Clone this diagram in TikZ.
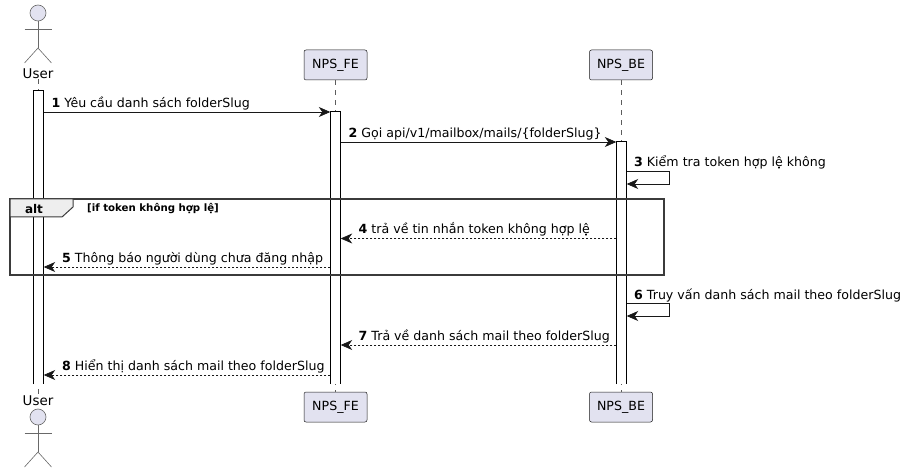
\documentclass[tikz,border=0pt]{standalone}
\usepackage{fontspec}
\setmainfont{DejaVu Sans}
\usetikzlibrary{arrows.meta,positioning}
\definecolor{partfill}{HTML}{E2E2F0}
\definecolor{partline}{HTML}{181818}
\definecolor{framefill}{HTML}{EEEEEE}
\tikzset{
  party/.style={draw=partline,fill=partfill,line width=0.5pt,rounded corners=2pt,minimum width=63pt,minimum height=30pt,inner sep=0pt,font=\fontsize{12.6}{15}\selectfont},
  actorlabel/.style={inner sep=0pt,font=\fontsize{13.4}{16}\selectfont},
  actorline/.style={draw=partline!65,line width=0.6pt},
  lifeline/.style={draw=partline!70,line width=0.5pt,dash pattern=on 5pt off 5pt},
  activebar/.style={fill=white,minimum width=10pt,inner sep=0pt},
  barline/.style={draw=black,line width=0.7pt},
  msg/.style={draw=partline,line width=0.7pt,-{Stealth[length=11.5pt,width=10pt,inset=3.5pt]}},
  msgback/.style={msg,dash pattern=on 2pt off 2pt},
  msglabel/.style={anchor=base west,inner sep=0pt,font=\fontsize{12.6}{15}\selectfont},
}
\newcommand{\stickman}[2]{%
  \draw[actorline,fill=partfill] (#1,#2) circle (8pt);
  \draw[actorline] (#1,#2+8) -- (#1,#2+35);
  \draw[actorline] (#1-13.5,#2+16) -- (#1+13.5,#2+16);
  \draw[actorline] (#1-13.5,#2+50) -- (#1,#2+35) -- (#1+13.5,#2+50);
}
\begin{document}
\begin{tikzpicture}[x=1pt,y=-1pt]
\useasboundingbox (0,0) rectangle (905,473);

% participants
\node[actorlabel] (usertop) at (38,74) {User};
\node[actorlabel] (userbot) at (38,401) {User};
\node[party] (fetop) at (335.5,65) {NPS\_FE};
\node[party] (febot) at (335.5,407) {NPS\_FE};
\node[party] (betop) at (621,65) {NPS\_BE};
\node[party] (bebot) at (621,407) {NPS\_BE};
\stickman{38}{13}
\stickman{38}{417}

% lifelines
\draw[lifeline] (usertop) -- (userbot);
\draw[lifeline] (fetop) -- (febot);
\draw[lifeline] (betop) -- (bebot);

% activation bars
\node[activebar,minimum height=293pt] (baruser) at (38.5,237.5) {};
\node[activebar,minimum height=272pt] (barfe) at (335.5,248) {};
\node[activebar,minimum height=242pt] (barbe) at (621.5,263) {};
\draw[barline] (baruser.south west) -- (baruser.north west) -- (baruser.north east) -- (baruser.south east);
\draw[barline] (barfe.south west) -- (barfe.north west) -- (barfe.north east) -- (barfe.south east);
\draw[barline] (barbe.south west) -- (barbe.north west) -- (barbe.north east) -- (barbe.south east);

% alt frame
\draw[draw=partline!85,line width=1.5pt] (10,199) rectangle (664,275);
\draw[draw=partline!85,fill=framefill,line width=1pt] (10,199) -- (73,199) -- (73,207) -- (62,217) -- (10,217) -- cycle;
\node[inner sep=0pt,font=\fontsize{12}{14}\selectfont\bfseries] (alttag) at (34,209) {alt};
\node[msglabel,font=\fontsize{10.2}{12}\selectfont\bfseries] (altguard) at (87,212) {[if token không hợp lệ]};

% messages
\coordinate (m1a) at (baruser.east |- 0,112);
\coordinate (m1b) at (barfe.west |- 0,112);
\draw[msg] (m1a) -- (m1b);
\node[msglabel] (t1) at (51.5,108) {\textbf{1} Yêu cầu danh sách folderSlug};

\coordinate (m2a) at (barfe.east |- 0,142);
\coordinate (m2b) at (barbe.west |- 0,142);
\draw[msg] (m2a) -- (m2b);
\node[msglabel] (t2) at (348.5,138) {\textbf{2} Gọi api/v1/mailbox/mails/\{folderSlug\}};

\coordinate (m3a) at (barbe.east |- 0,171.5);
\coordinate (m3b) at (barbe.east |- 0,184);
\draw[msg] (m3a) -- (669,171.5) -- (669,184) -- (m3b);
\node[msglabel] (t3) at (634,167) {\textbf{3} Kiểm tra token hợp lệ không};

\coordinate (m4a) at (barbe.west |- 0,238.5);
\coordinate (m4b) at (barfe.east |- 0,238.5);
\draw[msgback] (m4a) -- (m4b);
\node[msglabel] (t4) at (358.5,233.5) {\textbf{4} trả về tin nhắn token không hợp lệ};

\coordinate (m5a) at (barfe.west |- 0,267);
\coordinate (m5b) at (baruser.east |- 0,267);
\draw[msgback] (m5a) -- (m5b);
\node[msglabel] (t5) at (62,262.5) {\textbf{5} Thông báo người dùng chưa đăng nhập};

\coordinate (m6a) at (barbe.east |- 0,303.5);
\coordinate (m6b) at (barbe.east |- 0,316);
\draw[msg] (m6a) -- (669,303.5) -- (669,316) -- (m6b);
\node[msglabel] (t6) at (634,299.5) {\textbf{6} Truy vấn danh sách mail theo folderSlug};

\coordinate (m7a) at (barbe.west |- 0,345);
\coordinate (m7b) at (barfe.east |- 0,345);
\draw[msgback] (m7a) -- (m7b);
\node[msglabel] (t7) at (358.5,340.5) {\textbf{7} Trả về danh sách mail theo folderSlug};

\coordinate (m8a) at (barfe.west |- 0,375);
\coordinate (m8b) at (baruser.east |- 0,375);
\draw[msgback] (m8a) -- (m8b);
\node[msglabel] (t8) at (62,370.5) {\textbf{8} Hiển thị danh sách mail theo folderSlug};
\end{tikzpicture}
\end{document}
